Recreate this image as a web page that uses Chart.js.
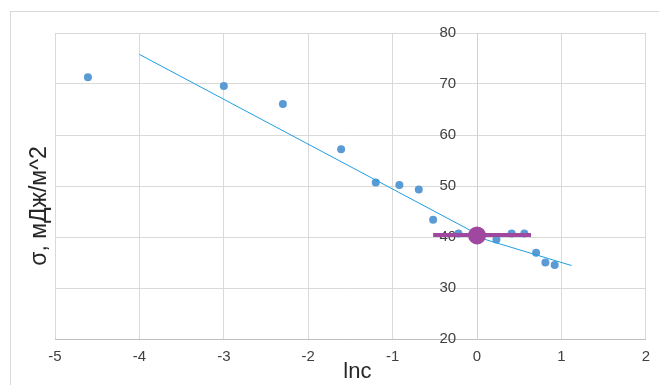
<!DOCTYPE html>
<html>
<head>
<meta charset="utf-8">
<script src="https://cdn.jsdelivr.net/npm/chart.js@4.4.0/dist/chart.umd.min.js"></script>
<style>
  html, body { margin: 0; padding: 0; background: #fff; }
  canvas { display: block; }
</style>
</head>
<body>
<canvas id="graph" width="659" height="385"></canvas>
<script>
// measured points: lnc vs surface tension
const lnc = [-4.61, -3.00, -2.30, -1.61, -1.20, -0.92, -0.69, -0.52, -0.22, 0.23, 0.41, 0.56, 0.70, 0.81, 0.92];
const sigma = [71.3, 69.6, 66.1, 57.2, 50.7, 50.2, 49.3, 43.4, 40.7, 39.5, 40.7, 40.7, 36.9, 35.0, 34.5];

// two trend lines (left / right part)
const trendLeftX = [-4.0, 0.0];
const trendLeftY = [75.8, 40.6];
const trendRightX = [0.0, 1.12];
const trendRightY = [40.0, 34.4];

// purple marker
const markX = [-0.52, 0.64];
const markY = [40.4, 40.4];
const dotX = [0];
const dotY = [40.3];

const xTicks = [-5, -4, -3, -2, -1, 0, 1, 2];
const yTicks = [20, 30, 40, 50, 60, 70, 80];
const xTitle = 'lnc';
const yTitle = 'σ, мДж/м^2';

const fontFamily = "'Liberation Sans', Arial, sans-serif";
Chart.defaults.font.family = fontFamily;

const toPoints = (xs, ys) => xs.map((x, i) => ({ x: x, y: ys[i] }));

// frame + axis titles drawn on the canvas
const extras = {
    id: 'extras',
    beforeDraw(chart) {
        const ctx = chart.ctx;
        ctx.save();
        ctx.strokeStyle = '#d9d9d9';
        ctx.lineWidth = 1;
        ctx.strokeRect(10.5, 11.5, 700, 400);
        ctx.restore();
    },
    afterDraw(chart) {
        const ctx = chart.ctx;
        const area = chart.chartArea;
        ctx.save();
        ctx.fillStyle = '#262626';
        ctx.font = '22px ' + fontFamily;
        ctx.textAlign = 'center';
        ctx.textBaseline = 'alphabetic';
        ctx.fillText(xTitle, (area.left + area.right) / 2 + 7, 378);
        ctx.font = '23px ' + fontFamily;
        ctx.translate(area.left - 15, (area.top + area.bottom) / 2 + 20);
        ctx.rotate(-Math.PI / 2);
        ctx.textBaseline = 'middle';
        ctx.fillText(yTitle, 0, 0);
        ctx.restore();
    }
};

const data = {
    datasets: [
        {
            label: 'dot',
            data: toPoints(dotX, dotY),
            backgroundColor: '#A0479F',
            borderWidth: 0,
            pointRadius: 9
        },
        {
            label: 'mark',
            data: toPoints(markX, markY),
            showLine: true,
            borderColor: '#A0479F',
            borderWidth: 4,
            pointRadius: 0
        },
        {
            label: 'trend1',
            data: toPoints(trendLeftX, trendLeftY),
            showLine: true,
            borderColor: '#1E9EE0',
            borderWidth: 1,
            pointRadius: 0
        },
        {
            label: 'trend2',
            data: toPoints(trendRightX, trendRightY),
            showLine: true,
            borderColor: '#1E9EE0',
            borderWidth: 1,
            pointRadius: 0
        },
        {
            label: 'sigma',
            data: toPoints(lnc, sigma),
            backgroundColor: '#5B9BD5',
            borderWidth: 0,
            pointRadius: 4
        }
    ]
};

const config = {
    type: 'scatter',
    data: data,
    options: {
        responsive: false,
        animation: false,
        layout: { padding: { top: 33, left: 55, right: 13, bottom: 10 } },
        plugins: {
            legend: { display: false },
            tooltip: { enabled: false }
        },
        scales: {
            x: {
                type: 'linear',
                position: 'bottom',
                min: -5,
                max: 2,
                afterBuildTicks: axis => { axis.ticks = xTicks.map(v => ({ value: v })); },
                grid: { color: '#d9d9d9', drawTicks: false },
                border: { color: '#bfbfbf' },
                ticks: { padding: 9, color: '#404040', font: { size: 15 } }
            },
            y: {
                type: 'linear',
                position: { x: 0 },
                min: 20,
                max: 80,
                afterBuildTicks: axis => { axis.ticks = yTicks.map(v => ({ value: v })); },
                grid: { color: '#d9d9d9', drawTicks: false },
                border: { color: '#d0d0d0' },
                ticks: {
                    color: '#404040',
                    font: { size: 15 },
                    // labels sit left of the x=0 axis line
                    callback: v => v + '\u00a0\u00a0\u00a0\u00a0\u00a0'
                }
            }
        }
    },
    plugins: [extras]
};

const graph = new Chart(document.getElementById('graph'), config);
</script>
</body>
</html>
